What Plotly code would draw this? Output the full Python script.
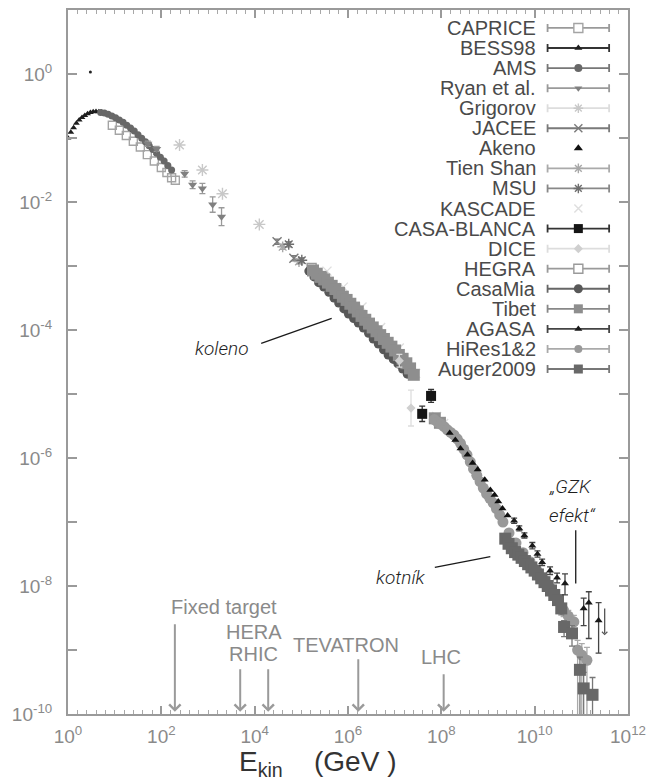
import numpy as np
import plotly.graph_objects as go

# ---------------------------------------------------------------------------
# Cosmic-ray spectrum compilation: log10(E_kin / GeV) and log10(flux)
# ---------------------------------------------------------------------------
caprice_log_e = [0.95, 1.10, 1.25, 1.40, 1.55, 1.70, 1.85, 2.00, 2.12, 2.22, 2.30]
caprice_log_f = [-0.80, -0.88, -0.96, -1.05, -1.14, -1.26, -1.36, -1.46, -1.54, -1.62, -1.66]

bess_log_e = [0.00, 0.06, 0.12, 0.18, 0.24, 0.30, 0.36, 0.42, 0.48, 0.54, 0.60, 0.66, 0.72, 0.80,
              0.90, 1.00, 1.10, 1.20, 1.30, 1.40, 1.50, 1.60, 1.70, 1.80, 1.90, 2.00]
bess_log_f = [-1.00, -0.91, -0.84, -0.77, -0.72, -0.68, -0.65, -0.62, -0.60, -0.59, -0.585, -0.59,
              -0.595, -0.61, -0.64, -0.68, -0.72, -0.76, -0.82, -0.88, -0.95, -1.02, -1.09, -1.16,
              -1.24, -1.31]
bess_single_log_e = [0.48]
bess_single_log_f = [0.03]

ams_log_e = [0.70, 0.78, 0.86, 0.94, 1.02, 1.10, 1.18, 1.26, 1.34, 1.42, 1.50, 1.58, 1.66, 1.74,
             1.82, 1.90, 1.98, 2.06, 2.14, 2.22]
ams_log_f = [-0.60, -0.61, -0.63, -0.655, -0.685, -0.72, -0.755, -0.80, -0.845, -0.89, -0.95,
             -1.005, -1.06, -1.12, -1.18, -1.24, -1.30, -1.36, -1.43, -1.50]

ryan_log_e = [1.71, 1.90, 2.50, 2.67, 2.88, 3.10, 3.29]
ryan_log_f = [-1.09, -1.17, -1.56, -1.73, -1.79, -2.04, -2.23]
ryan_err_dex = [0.04, 0.04, 0.05, 0.06, 0.08, 0.12, 0.14]

grigorov_log_e = [2.39, 2.88, 3.31, 4.10]
grigorov_log_f = [-1.11, -1.50, -1.87, -2.35]

jacee_log_e = [4.48, 4.84]
jacee_log_f = [-2.62, -2.88]
jacee_err_dex = [0.04, 0.04]

akeno_log_e = [8.18, 8.30, 8.41, 8.56, 8.67, 8.78, 8.93, 9.05, 9.14, 9.22, 9.31, 9.42]
akeno_log_f = [-5.61, -5.72, -5.85, -5.95, -6.08, -6.18, -6.34, -6.50, -6.58, -6.68, -6.79, -6.90]

tienshan_log_e = [4.60, 4.95]
tienshan_log_f = [-2.70, -2.93]
tienshan_err_dex = [0.04, 0.04]

msu_log_e = [4.73, 5.01]
msu_log_f = [-2.66, -2.91]
msu_err_dex = [0.04, 0.04]

kascade_log_e = [5.55, 5.90, 6.30, 6.70, 7.10, 7.45, 7.90, 8.05]
kascade_log_f = [-3.08, -3.33, -3.64, -3.96, -4.28, -4.68, -5.35, -5.46]

casablanca_log_e = [7.59, 7.78]
casablanca_log_f = [-5.31, -5.03]
casablanca_err_dex = [0.12, 0.10]

dice_log_e = [7.10, 7.35]
dice_log_f = [-4.48, -5.22]
dice_err_dex = [0.10, 0.28]

hegra_log_e = [5.22, 5.45]
hegra_log_f = [-3.03, -3.17]
hegra_err_dex = [0.04, 0.04]

casamia_log_e = [5.16, 5.27, 5.37, 5.48, 5.59, 5.70, 5.80, 5.91, 6.01, 6.12, 6.22, 6.33, 6.44,
                 6.54, 6.65, 6.76, 6.86, 6.97, 7.07, 7.17, 7.27]
casamia_log_f = [-3.08, -3.17, -3.26, -3.33, -3.41, -3.50, -3.58, -3.67, -3.75, -3.82, -3.89,
                 -3.97, -4.05, -4.14, -4.22, -4.31, -4.39, -4.46, -4.53, -4.61, -4.69]

tibet_log_e = [5.25, 5.33, 5.41, 5.49, 5.57, 5.65, 5.73, 5.81, 5.89, 5.97, 6.05, 6.13, 6.21,
               6.29, 6.37, 6.45, 6.53, 6.61, 6.69, 6.77, 6.85, 6.93, 7.01, 7.09, 7.17, 7.25,
               7.33, 7.41, 7.86, 7.97]
tibet_log_f = [-3.07, -3.12, -3.17, -3.21, -3.26, -3.31, -3.36, -3.42, -3.48, -3.53, -3.59,
               -3.65, -3.71, -3.78, -3.84, -3.90, -3.96, -4.02, -4.08, -4.14, -4.20, -4.26,
               -4.32, -4.39, -4.45, -4.52, -4.60, -4.70, -5.38, -5.45]

agasa_log_e = [9.56, 9.67, 9.78, 9.95, 10.06, 10.16, 10.33, 10.48, 10.65, 11.05, 11.16, 11.37]
agasa_log_f = [-6.98, -7.10, -7.21, -7.37, -7.50, -7.63, -7.76, -7.87, -7.96, -8.35, -8.26, -8.54]
agasa_err_up_dex = [0.04, 0.04, 0.04, 0.05, 0.05, 0.05, 0.06, 0.07, 0.15, 0.16, 0.17, 0.28]
agasa_err_dn_dex = [0.04, 0.04, 0.04, 0.05, 0.05, 0.05, 0.06, 0.08, 0.18, 0.27, 0.56, 0.51]
# upper limit (energy, top of arrow, tip of arrow)
agasa_limit_log_e = 11.50
agasa_limit_log_f = [-8.33, -8.77]

hires_log_e = [7.85, 7.92, 7.99, 8.06, 8.13, 8.20, 8.27, 8.34, 8.41, 8.48, 8.55, 8.62, 8.69,
               8.76, 8.83, 8.90, 8.97, 9.04, 9.11, 9.18, 9.25, 9.32, 9.45, 9.60, 9.75, 9.90,
               10.05, 10.20, 10.35, 10.50, 10.62, 10.72, 10.84, 10.92, 11.01, 11.12]
hires_log_f = [-5.40, -5.44, -5.47, -5.51, -5.56, -5.60, -5.64, -5.70, -5.77, -5.86, -5.95,
               -6.06, -6.17, -6.27, -6.37, -6.47, -6.56, -6.63, -6.70, -6.79, -6.89, -7.00,
               -7.17, -7.33, -7.48, -7.62, -7.76, -7.90, -8.04, -8.22, -8.38, -8.47, -8.56,
               -9.00, -9.08, -9.16]
hires_err_up_dex = [0.02] * 22 + [0.03, 0.03, 0.03, 0.04, 0.04, 0.05, 0.05, 0.06, 0.08, 0.09,
                                  0.10, 0.15, 0.18, 0.20]
hires_err_dn_dex = [0.02] * 22 + [0.03, 0.03, 0.03, 0.04, 0.04, 0.05, 0.05, 0.06, 0.10, 0.12,
                                  0.14, 1.20, 1.20, 1.20]

auger_log_e = [9.37, 9.44, 9.51, 9.58, 9.65, 9.72, 9.79, 9.86, 9.93, 10.00, 10.07, 10.14, 10.21,
               10.28, 10.35, 10.42, 10.50, 10.57, 10.63, 10.80, 10.97, 11.05, 11.24]
auger_log_f = [-7.26, -7.34, -7.41, -7.47, -7.51, -7.56, -7.61, -7.66, -7.71, -7.76, -7.82,
               -7.88, -7.94, -8.00, -8.07, -8.14, -8.22, -8.35, -8.64, -8.74, -9.31, -9.60, -9.70]
auger_err_up_dex = [0.02] * 10 + [0.03, 0.03, 0.04, 0.04, 0.05, 0.06, 0.07, 0.08, 0.10, 0.12,
                                  0.20, 0.25, 0.27]
auger_err_dn_dex = [0.02] * 10 + [0.03, 0.03, 0.04, 0.04, 0.05, 0.06, 0.08, 0.10, 0.15, 0.20,
                                  0.80, 0.80, 0.80]

# accelerator reach, equivalent fixed-target energy (log10 GeV)
accel_names = ["Fixed target", "HERA", "RHIC", "TEVATRON", "LHC"]
accel_log_e = [2.29, 3.69, 4.29, 6.22, 8.05]

# pointer lines for the spectral features (log10 E, log10 flux)
knee_log_e, knee_log_f = [4.14, 5.65], [-4.21, -3.82]
ankle_log_e, ankle_log_f = [7.86, 9.05], [-7.71, -7.54]
gzk_log_e, gzk_log_f = [10.88, 10.88], [-7.13, -7.96]

# ---------------------------------------------------------------------------
# styles
# ---------------------------------------------------------------------------
STY = {
    "CAPRICE":     dict(symbol="square-open",   color="#a4a4a4", bar="#9a9a9a", size=8,  lsize=9),
    "BESS98":      dict(symbol="triangle-up",   color="#1e1e1e", bar="#333333", size=6,  lsize=7),
    "AMS":         dict(symbol="circle",        color="#686868", bar="#777777", size=7,  lsize=8),
    "Ryan et al.": dict(symbol="triangle-down", color="#808080", bar="#9a9a9a", size=8,  lsize=7),
    "Grigorov":    dict(symbol="asterisk-open", color="#c8c8c8", bar="#dddddd", size=10, lsize=8),
    "JACEE":       dict(symbol="x-thin-open",   color="#7a7a7a", bar="#7a7a7a", size=9,  lsize=8),
    "Akeno":       dict(symbol="triangle-up",   color="#111111", bar=None,      size=7,  lsize=8),
    "Tien Shan":   dict(symbol="asterisk-open", color="#a8a8a8", bar="#aaaaaa", size=9,  lsize=8),
    "MSU":         dict(symbol="asterisk-open", color="#6e6e6e", bar="#888888", size=9,  lsize=8),
    "KASCADE":     dict(symbol="x-thin-open",   color="#dedede", bar=None,      size=9,  lsize=8),
    "CASA-BLANCA": dict(symbol="square",        color="#151515", bar="#333333", size=10, lsize=9),
    "DICE":        dict(symbol="diamond",       color="#cfcfcf", bar="#dddddd", size=7,  lsize=7),
    "HEGRA":       dict(symbol="square-open",   color="#9a9a9a", bar="#9a9a9a", size=9,  lsize=9),
    "CasaMia":     dict(symbol="circle",        color="#585858", bar="#666666", size=9,  lsize=9),
    "Tibet":       dict(symbol="square",        color="#8e8e8e", bar="#888888", size=12, lsize=9),
    "AGASA":       dict(symbol="triangle-up",   color="#1a1a1a", bar="#444444", size=7,  lsize=7),
    "HiRes1&2":    dict(symbol="circle",        color="#999999", bar="#aaaaaa", size=11, lsize=8),
    "Auger2009":   dict(symbol="square",        color="#686868", bar="#777777", size=12, lsize=9),
}

W, H = 654, 781
L, R, T, B = 68, 632, 8, 714          # plot box in pixels
FONT = "Liberation Sans, Arial, Helvetica, sans-serif"


def lin(v):
    return np.power(10.0, np.asarray(v, dtype=float))


def px_x(p):
    return (p - L) / (R - L)


def px_y(p):
    return (B - p) / (B - T)


fig = go.Figure()


def add_set(name, log_e, log_f, up=None, dn=None):
    s = STY[name]
    f = lin(log_f)
    open_sym = s["symbol"].endswith("-open")
    marker = dict(symbol=s["symbol"], size=s["size"], color=s["color"],
                  line=dict(color=s["color"], width=1.4 if open_sym else 0))
    kw = {}
    if up is not None:
        dn = up if dn is None else dn
        kw["error_y"] = dict(type="data", symmetric=False,
                             array=f * (lin(up) - 1.0),
                             arrayminus=f * (1.0 - lin(-np.asarray(dn, dtype=float))),
                             color=s["bar"] or s["color"], thickness=1.3, width=3)
    fig.add_trace(go.Scatter(x=lin(log_e), y=f, mode="markers", marker=marker,
                             showlegend=False, hoverinfo="skip", name=name, **kw))


add_set("CAPRICE", caprice_log_e, caprice_log_f)
add_set("BESS98", bess_log_e, bess_log_f)
fig.add_trace(go.Scatter(x=lin(bess_single_log_e), y=lin(bess_single_log_f), mode="markers",
                         marker=dict(size=3, color="#222222"), showlegend=False, hoverinfo="skip"))
add_set("AMS", ams_log_e, ams_log_f)
add_set("Ryan et al.", ryan_log_e, ryan_log_f, ryan_err_dex)
add_set("Grigorov", grigorov_log_e, grigorov_log_f)
add_set("JACEE", jacee_log_e, jacee_log_f, jacee_err_dex)
add_set("Tien Shan", tienshan_log_e, tienshan_log_f, tienshan_err_dex)
add_set("MSU", msu_log_e, msu_log_f, msu_err_dex)
add_set("KASCADE", kascade_log_e, kascade_log_f)
add_set("HEGRA", hegra_log_e, hegra_log_f, hegra_err_dex)
add_set("CasaMia", casamia_log_e, casamia_log_f)
add_set("Tibet", tibet_log_e, tibet_log_f)
add_set("DICE", dice_log_e, dice_log_f, dice_err_dex)
add_set("CASA-BLANCA", casablanca_log_e, casablanca_log_f, casablanca_err_dex)
add_set("HiRes1&2", hires_log_e, hires_log_f, hires_err_up_dex, hires_err_dn_dex)
add_set("Auger2009", auger_log_e, auger_log_f, auger_err_up_dex, auger_err_dn_dex)
add_set("Akeno", akeno_log_e, akeno_log_f)
add_set("AGASA", agasa_log_e, agasa_log_f, agasa_err_up_dex, agasa_err_dn_dex)

# pointer lines
for le, lf in [(knee_log_e, knee_log_f), (ankle_log_e, ankle_log_f), (gzk_log_e, gzk_log_f)]:
    fig.add_trace(go.Scatter(x=lin(le), y=lin(lf), mode="lines",
                             line=dict(color="#1a1a1a", width=1.3),
                             showlegend=False, hoverinfo="skip"))

annotations = []

# AGASA upper limit arrow
annotations.append(dict(x=agasa_limit_log_e, y=agasa_limit_log_f[1], xref="x", yref="y",
                        ax=agasa_limit_log_e, ay=agasa_limit_log_f[0], axref="x", ayref="y",
                        text="", showarrow=True, arrowhead=4, arrowsize=0.8, arrowwidth=1.3,
                        arrowcolor="#555555"))

# accelerator arrows
arrow_tail_px = [620, 665, 665, 655, 670]
for le, tail in zip(accel_log_e, arrow_tail_px):
    annotations.append(dict(x=le, y=-9.998, xref="x", yref="y", ax=0, ay=-(B - 3 - tail),
                            text="", showarrow=True, arrowhead=4, arrowsize=1.1,
                            arrowwidth=2, arrowcolor="#9a9a9a", standoff=2))

accel_label_pos = [(170, 607, "left"), (255, 632, "center"), (255, 654, "center"),
                   (348, 645, "center"), (444, 657, "center")]
for name, (lx, ly, anc) in zip(accel_names, accel_label_pos):
    annotations.append(dict(x=px_x(lx), y=px_y(ly), xref="paper", yref="paper",
                            text=name, showarrow=False, xanchor=anc, yanchor="middle",
                            font=dict(family=FONT, size=20, color="#8a8a8a")))

# feature labels
ITAL = dict(family="Roboto, Open Sans, sans-serif", size=19, color="#1e1e1e",
            style="italic", weight=300)
for txt, lx, ly, anc in [("koleno", 223, 347, "center"), ("kotník", 403, 577, "center"),
                         ("„GZK", 550, 486, "left"), ("efekt“", 550, 515, "left")]:
    annotations.append(dict(x=px_x(lx), y=px_y(ly), xref="paper", yref="paper", text=txt,
                            showarrow=False, xanchor=anc, yanchor="middle", font=ITAL))

# axis title
annotations.append(dict(x=px_x(262), y=px_y(764), xref="paper", yref="paper",
                        text="E<sub>kin</sub>", showarrow=False, xanchor="center",
                        yanchor="middle", font=dict(family=FONT, size=28, color="#333333")))
annotations.append(dict(x=px_x(357), y=px_y(762), xref="paper", yref="paper",
                        text="(GeV )", showarrow=False, xanchor="center",
                        yanchor="middle", font=dict(family=FONT, size=28, color="#333333")))

# key: label right-aligned, then an error-bar sample with the marker
legend_names = list(STY.keys())
row0, row_step = 26.0, 20.12
for i, name in enumerate(legend_names):
    s = STY[name]
    ry = row0 + i * row_step
    annotations.append(dict(x=px_x(541), y=px_y(ry), xref="paper", yref="paper", text=name,
                            showarrow=False, xanchor="right", yanchor="middle",
                            font=dict(family=FONT, size=20, color="#4a4a4a")))
    is_open_square = s["symbol"] == "square-open"
    open_sym = s["symbol"].endswith("-open")
    kw = {}
    if s["bar"]:
        kw["error_x"] = dict(type="data", array=[31.0], symmetric=True, color=s["bar"],
                             thickness=1.8, width=4)
    if is_open_square:
        # white-filled square so the bar does not show through the marker
        mk = dict(symbol="square", size=s["lsize"], color="white",
                  line=dict(color=s["color"], width=1.4))
    else:
        mk = dict(symbol=s["symbol"], size=s["lsize"], color=s["color"],
                  line=dict(color=s["color"], width=1.4 if open_sym else 0))
    fig.add_trace(go.Scatter(x=[582.0], y=[ry], xaxis="x2", yaxis="y2", mode="markers",
                             marker=mk, showlegend=False, hoverinfo="skip", **kw))

x_major = [0, 2, 4, 6, 8, 10, 12]
y_major = list(range(-10, 1))
x_minor = [10 ** (k * 0.2) for k in range(61) if k % 10 != 0]

axis_common = dict(showgrid=False, zeroline=False, showline=True, linecolor="#9a9a9a",
                   linewidth=2, ticks="inside", tickcolor="#9a9a9a", tickwidth=1.5,
                   mirror="ticks",
                   tickfont=dict(family=FONT, size=19, color="#8a8a8a"))

fig.update_layout(
    width=W, height=H,
    margin=dict(l=L, r=W - R, t=T, b=H - B, pad=0),
    paper_bgcolor="white", plot_bgcolor="white",
    showlegend=False,
    xaxis=dict(type="log", range=[0, 12], tickvals=[10.0 ** k for k in x_major],
               ticktext=["10<sup>%d</sup>" % k for k in x_major], ticklen=8,
               minor=dict(tickvals=x_minor, ticks="inside", ticklen=4, tickcolor="#a8a8a8",
                          tickwidth=1),
               ticklabelstandoff=4, **axis_common),
    yaxis=dict(type="log", range=[-10, 1], tickvals=[10.0 ** k for k in y_major],
               ticktext=[("10<sup>%d</sup>" % k) if k % 2 == 0 else "" for k in y_major],
               ticklen=9, ticklabelstandoff=10, **axis_common),
    xaxis2=dict(overlaying="x", anchor="y2", range=[L, R], visible=False, fixedrange=True),
    yaxis2=dict(overlaying="y", anchor="x2", range=[B, T], visible=False, fixedrange=True),
    annotations=annotations,
)

fig.write_html("out.html")
